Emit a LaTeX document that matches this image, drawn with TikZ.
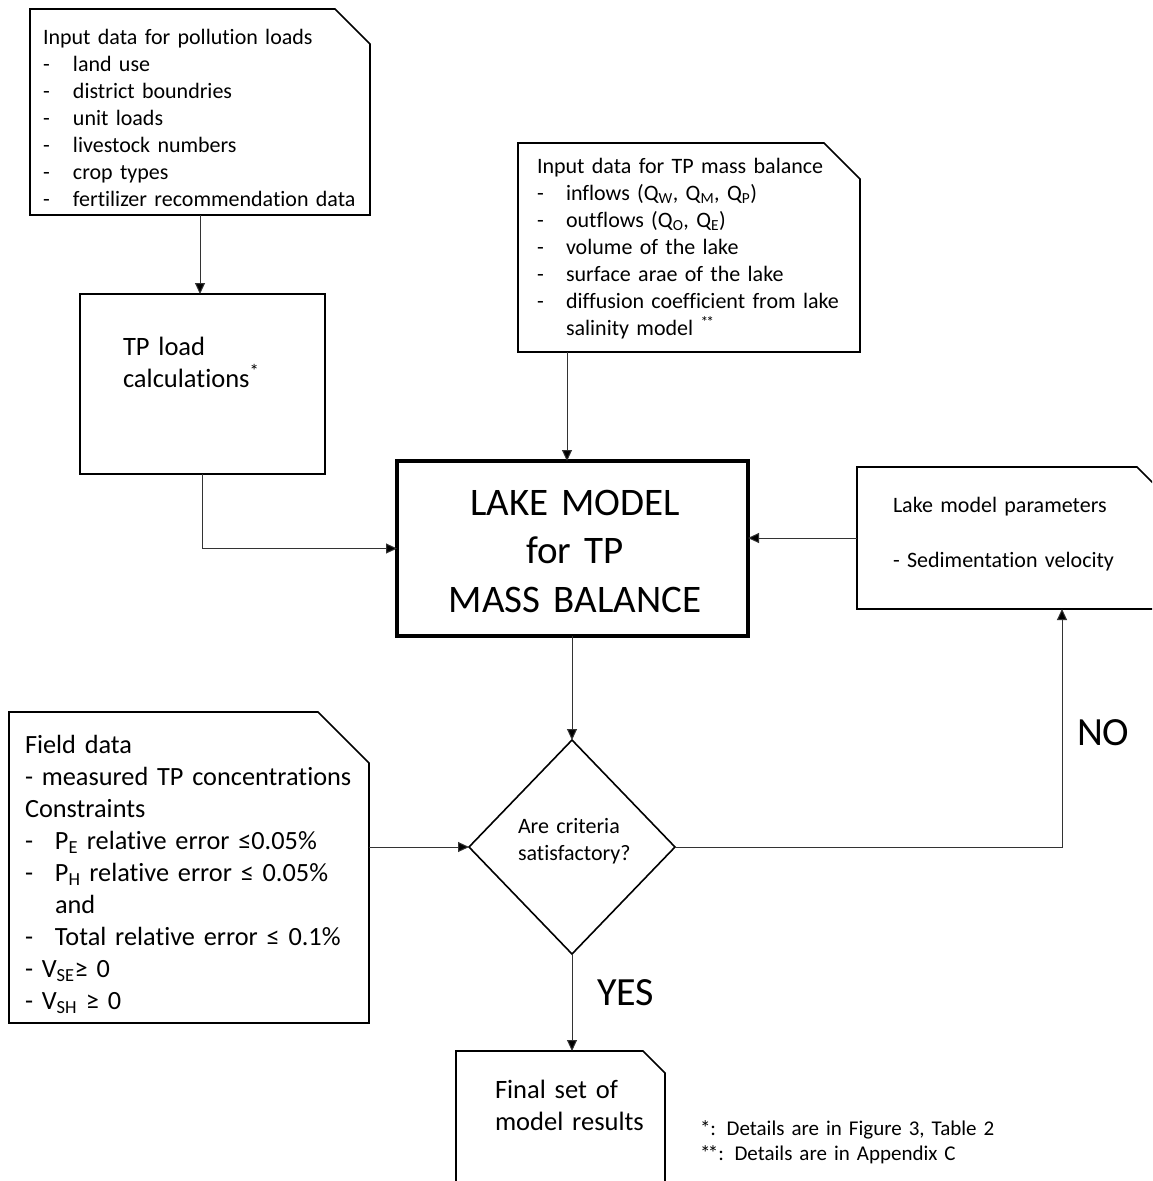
\documentclass[tikz,border=0pt]{standalone}
\usepackage{fontspec}
\setmainfont{Carlito}[Ligatures=NoCommon]
\usetikzlibrary{arrows.meta}
\newcommand\snipbox[3][]{\draw[boxline,#1] (#2.south west) -- (#2.north west) -- ([xshift=-#3pt]#2.north east) -- ([yshift=-#3pt]#2.north east) -- (#2.south east) -- cycle;}
\newcommand\dsh[1][30pt]{\makebox[#1][l]{-}}
\newcommand\twostars{*\kern-0.12em*}
\begin{document}
\begin{tikzpicture}[x=1pt,y=-1pt,
  holder/.style={inner sep=0pt, outer sep=0pt, draw=none, rectangle},
  txt/.style={inner sep=0pt, outer sep=0pt, anchor=base west, align=left},
  boxline/.style={line width=1.6pt, line join=miter, black},
  conn/.style={draw=black!80, line width=1pt, -{Triangle[length=11pt,width=10pt,fill=black]}}]
\useasboundingbox (0,0) rectangle (1152,1181);
\clip (0,0) rectangle (1152,1181);
\fill[white] (0,0) rectangle (1152,1181);

% boxes (frames)
\node[holder, minimum width=340pt, minimum height=206pt] (inp) at (200,112) {};
\snipbox{inp}{35}
\node[holder, minimum width=342pt, minimum height=209pt] (tpm) at (689,247.5) {};
\snipbox{tpm}{36}
\node[holder, minimum width=245pt, minimum height=180pt] (tpl) at (202.5,384) {};
\draw[boxline] (tpl.south west) rectangle (tpl.north east);
\node[holder, minimum width=351pt, minimum height=175pt] (lake) at (572.5,548.5) {};
\draw[boxline, line width=3.5pt] (lake.south west) rectangle (lake.north east);
\node[holder, minimum width=315pt, minimum height=142pt] (par) at (1014.5,538) {};
\snipbox{par}{35}
\node[holder, minimum width=206pt, minimum height=214pt] (dia) at (572,847) {};
\draw[boxline] (dia.north) -- (dia.east) -- (dia.south) -- (dia.west) -- cycle;
\node[holder, minimum width=360pt, minimum height=311pt] (fld) at (189,867.5) {};
\snipbox{fld}{51}
\node[holder, minimum width=209pt, minimum height=179pt] (fin) at (560.5,1140.5) {};
\snipbox{fin}{22}

% texts
\node[txt, text width=340pt, font=\fontsize{22}{27}\selectfont] (inpT) at (43,44)
 {Input data for pollution loads\\
  \dsh land use\\
  \dsh district boundries\\
  \dsh unit loads\\
  \dsh livestock numbers\\
  \dsh crop types\\
  \dsh fertilizer recommendation data};
\node[txt, text width=330pt, font=\fontsize{22}{27}\selectfont] (tpmT) at (537,173)
 {Input data for TP mass balance\\
  \dsh[29pt]inflows (Q\textsubscript{W}, Q\textsubscript{M}, Q\textsubscript{P})\\
  \dsh[29pt]outflows (Q\textsubscript{O}, Q\textsubscript{E})\\
  \dsh[29pt]volume of the lake\\
  \dsh[29pt]surface arae of the lake\\
  \dsh[29pt]diffusion coefficient from lake\\
  \makebox[29pt][l]{}salinity model \textsuperscript{\twostars}};
\node[txt, text width=200pt, font=\fontsize{26.5}{32}\selectfont] (tplT) at (123,355)
 {TP load\\calculations\textsuperscript{*}};
\node[inner sep=0pt, anchor=base, text width=340pt, align=center, font=\fontsize{39}{48.5}\selectfont] (lakeT) at (575,515)
 {LAKE MODEL\\for TP\\MASS BALANCE};
\node[txt, text width=270pt, font=\fontsize{22}{27.5}\selectfont] (parT) at (893,512)
 {Lake model parameters\\[27.5pt]- Sedimentation velocity};
\node[txt, text width=150pt, font=\fontsize{22}{27}\selectfont] (diaT) at (518,833)
 {Are criteria\\satisfactory?};
\node[txt, text width=350pt, font=\fontsize{26.3}{32.1}\selectfont] (fldT) at (25,753)
 {Field data\\
  - measured TP concentrations\\
  Constraints\\
  \dsh P\textsubscript{E} relative error ≤0.05\%\\
  \dsh P\textsubscript{H} relative error ≤ 0.05\%\\
  \makebox[30pt][l]{}and\\
  \dsh Total relative error ≤ 0.1\%\\
  - V\textsubscript{SE}≥ 0\\
  - V\textsubscript{SH} ≥ 0};
\node[txt, text width=170pt, font=\fontsize{26.5}{32.5}\selectfont] (finT) at (495,1098)
 {Final set of\\model results};
\node[txt, text width=440pt, font=\fontsize{21}{25.5}\selectfont] (note) at (700,1135)
 {*: Details are in Figure 3, Table 2\\{}\twostars: Details are in Appendix C};
\node[txt, font=\fontsize{40}{48}\selectfont] (yes) at (597,1005) {YES};
\node[txt, font=\fontsize{40}{48}\selectfont] (no) at (1077,745) {NO};

% connectors
\coordinate (tpmout) at (567,352);
\coordinate (parin) at (1062,609);
\draw[conn] (inp.south) -- (inp.south |- tpl.north);
\draw[conn] (tpl.south) |- (lake.west);
\draw[conn] (tpmout) -- (tpmout |- lake.north);
\draw[conn] (par.west) -- (par.west -| lake.east);
\draw[conn] (lake.south -| dia.north) -- (dia.north);
\draw[conn] (fld.east |- dia.west) -- (dia.west);
\draw[conn] (dia.east) -| (parin);
\draw[conn] (dia.south) -- (dia.south |- fin.north);
\end{tikzpicture}
\end{document}
